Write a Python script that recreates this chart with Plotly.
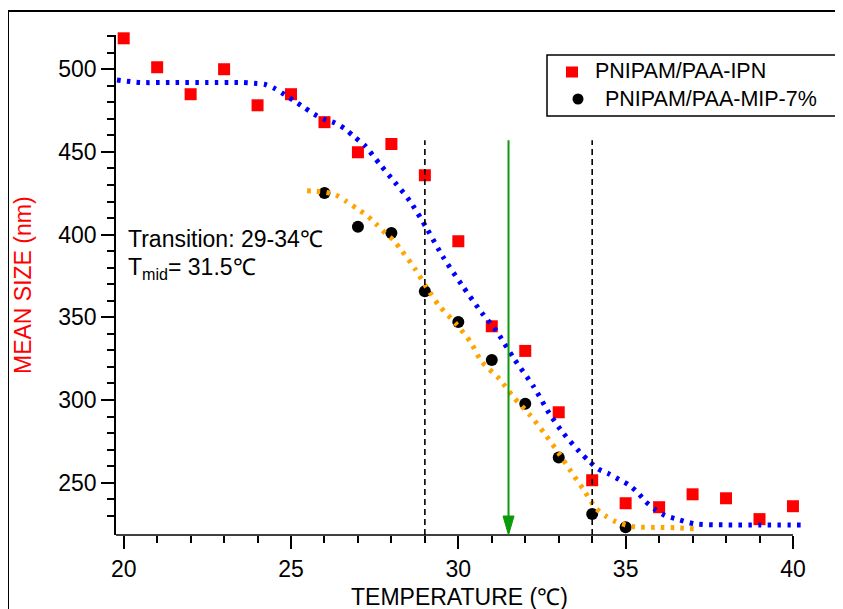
import plotly.graph_objects as go

# ---- data ----
TEMP = list(range(20, 41))
IPN_SIZE = [518.7, 501.2, 484.9, 500.0, 478.2, 484.9, 468.0, 449.8, 454.8, 435.9,
            396.0, 344.6, 329.7, 292.6, 251.5, 237.6, 235.2, 243.0, 240.6, 228.0, 235.8]

MIP_TEMP = list(range(26, 36))
MIP_SIZE = [425.2, 404.8, 401.0, 365.8, 347.2, 324.2, 297.8, 265.2, 231.1, 223.1]

IPN_FIT_X = [19.8, 20.5, 21.5, 22.5, 23.5, 23.9, 24.2, 24.5, 24.8, 25.1, 25.4, 25.7, 26.0, 26.3,
             26.6, 26.9, 27.2, 27.65, 28.1, 28.55, 29.07, 29.54, 30.1, 30.7, 31.14, 31.67,
             32.25, 32.74, 33.14, 33.62, 33.9, 34.19, 34.49, 34.79, 35.08, 35.36, 35.6,
             35.89, 36.17, 36.47, 37.05, 38.0, 39.0, 40.3]
IPN_FIT_Y = [493.5, 492.0, 492.0, 492.0, 492.0, 491.5, 490.9, 488.5, 484.8, 480.8, 476.8, 472.7,
             469.7, 467.7, 464.1, 459.0, 454.0, 442.7, 431.7, 420.4, 403.3, 386.6, 369.7,
             352.8, 341.7, 324.8, 308.1, 291.2, 279.9, 268.7, 263.2, 258.2, 255.5, 252.1,
             248.9, 244.1, 238.5, 233.7, 230.2, 228.4, 225.2, 224.5, 224.5, 224.4]

MIP_FIT_X = [25.48, 25.76, 26.05, 26.35, 26.65, 26.95, 27.24, 27.53, 27.81, 28.07, 28.29,
             28.7, 29.04, 29.42, 29.94, 30.38, 30.69, 31.23, 31.66, 32.15, 32.59, 32.99,
             33.36, 33.74, 34.11, 34.41, 34.7, 35.0, 35.29, 35.88, 36.47, 37.05]
MIP_FIT_Y = [426.6, 426.2, 425.5, 423.9, 420.1, 416.0, 412.0, 406.7, 401.1, 396.5, 390.8,
             379.5, 368.4, 357.2, 345.9, 334.6, 323.4, 312.7, 301.5, 290.7, 279.4, 268.2,
             257.0, 245.9, 234.6, 229.8, 226.5, 224.4, 223.2, 223.0, 222.8, 222.2]

SERIES_NAMES = ["PNIPAM/PAA-IPN", "PNIPAM/PAA-MIP-7%"]
X_TICKS = [20, 25, 30, 35, 40]
Y_TICKS = [250, 300, 350, 400, 450, 500]

TRANSITION = [29, 34]
T_MID = 31.5
MARKER_TOP = 457.0

X_RANGE = [19.77, 40.3]
Y_RANGE = [218.4, 520.7]

FONT = "Liberation Sans, Arial, Helvetica, sans-serif"
FS = 23
LEG_FS = 21.5

# page is offset 8px by the body margin; plot area spans page x 116..803, y 35..535
PL, PT, PW, PH = 116, 35, 687, 500


def px(xp):
    return (xp - PL) / PW


def py(yp):
    return (PT + PH - yp) / PH


fig = go.Figure()

fig.add_trace(go.Scatter(
    x=TEMP, y=IPN_SIZE, mode="markers", name=SERIES_NAMES[0], showlegend=False,
    marker=dict(symbol="square", size=12, color="#ff0000"), cliponaxis=False))
fig.add_trace(go.Scatter(
    x=MIP_TEMP, y=MIP_SIZE, mode="markers", name=SERIES_NAMES[1], showlegend=False,
    marker=dict(symbol="circle", size=12, color="#000000"), cliponaxis=False))
fig.add_trace(go.Scatter(
    x=IPN_FIT_X, y=IPN_FIT_Y, mode="lines", showlegend=False,
    line=dict(color="#0000ff", width=5, dash="3.5px,6.3px", shape="spline", smoothing=0.7)))
fig.add_trace(go.Scatter(
    x=MIP_FIT_X, y=MIP_FIT_Y, mode="lines", showlegend=False,
    line=dict(color="#ffa500", width=5, dash="3.5px,6.3px", shape="spline", smoothing=0.7)))

shapes = []
# outer frame
shapes.append(dict(type="rect", xref="paper", yref="paper", x0=px(8), x1=px(860),
                   y0=py(625), y1=py(11), line=dict(color="black", width=2), layer="above"))
# x axis line (ends at 40)
shapes.append(dict(type="line", xref="x", yref="paper", x0=X_RANGE[0], x1=X_TICKS[-1], y0=0, y1=0,
                   line=dict(color="black", width=1.6), layer="above"))
for t in TRANSITION:
    shapes.append(dict(type="line", xref="x", yref="y", x0=t, x1=t, y0=Y_RANGE[0], y1=MARKER_TOP,
                       line=dict(color="black", width=1.6, dash="6px,4px"), layer="above"))
# green arrow
shapes.append(dict(type="line", xref="x", yref="y", x0=T_MID, x1=T_MID, y0=Y_RANGE[0] + 8,
                   y1=MARKER_TOP, line=dict(color="#0a9a0a", width=2), layer="above"))
shapes.append(dict(type="path", xref="x", yref="y", xsizemode="pixel", ysizemode="pixel",
                   xanchor=T_MID, yanchor=Y_RANGE[0], path="M-5.5,19 L5.5,19 L0,0 Z",
                   fillcolor="#0a9a0a", line=dict(color="#0a9a0a", width=1), layer="above"))

# legend (drawn by hand to match the reference box)
shapes.append(dict(type="rect", xref="paper", yref="paper", x0=px(547), x1=px(836),
                   y0=py(116), y1=py(55), fillcolor="white",
                   line=dict(color="black", width=1.5), layer="above"))
shapes.append(dict(type="rect", xref="paper", yref="paper", xsizemode="pixel", ysizemode="pixel",
                   xanchor=px(572), yanchor=py(72), x0=-6, x1=6, y0=-5.5, y1=5.5,
                   fillcolor="#ff0000", line=dict(width=0), layer="above"))
shapes.append(dict(type="circle", xref="paper", yref="paper", xsizemode="pixel", ysizemode="pixel",
                   xanchor=px(578), yanchor=py(99), x0=-5.5, x1=5.5, y0=-5.5, y1=5.5,
                   fillcolor="#000000", line=dict(width=0), layer="above"))

annotations = [
    dict(text=SERIES_NAMES[0], xref="paper", yref="paper", x=px(593), y=py(71),
         xanchor="left", yanchor="middle", showarrow=False,
         font=dict(family=FONT, size=LEG_FS, color="black")),
    dict(text=SERIES_NAMES[1], xref="paper", yref="paper", x=px(603), y=py(99),
         xanchor="left", yanchor="middle", showarrow=False,
         font=dict(family=FONT, size=LEG_FS, color="black")),
    dict(text="Transition: 29-34\u2103", xref="paper", yref="paper",
         x=px(126), y=py(239.4), xanchor="left", yanchor="middle",
         showarrow=False, font=dict(family=FONT, size=FS, color="black")),
    dict(text="T<sub>mid</sub>= 31.5\u2103", xref="paper", yref="paper",
         x=px(126), y=py(268), xanchor="left", yanchor="middle",
         showarrow=False, font=dict(family=FONT, size=FS, color="black")),
    dict(text="TEMPERATURE (\u2103)", xref="paper", yref="paper",
         x=0.5 * (px(116) + px(803)), y=py(597), xanchor="center", yanchor="middle",
         showarrow=False, font=dict(family=FONT, size=FS, color="black")),
    dict(text="MEAN SIZE (nm)", xref="paper", yref="paper", textangle=-90,
         x=px(23), y=0.5, xanchor="center", yanchor="middle",
         showarrow=False, font=dict(family=FONT, size=FS, color="#ff0000")),
]

fig.update_layout(
    width=835, height=601,
    margin=dict(l=PL - 8, r=835 - (PL - 8) - PW, t=PT - 8, b=601 - (PT - 8) - PH),
    paper_bgcolor="white", plot_bgcolor="white",
    font=dict(family=FONT, size=FS, color="black"),
    showlegend=False,
    shapes=shapes,
    annotations=annotations,
)

fig.update_xaxes(
    range=X_RANGE, showgrid=False, zeroline=False, showline=False,
    tickmode="array", tickvals=X_TICKS, ticktext=[str(v) for v in X_TICKS],
    ticks="outside", ticklen=13, tickwidth=1.6, tickcolor="black",
    minor=dict(tickmode="array", tickvals=[v for v in TEMP if v % 5 != 0],
               ticks="outside", ticklen=7, tickwidth=1.6, tickcolor="black", showgrid=False),
    tickfont=dict(family=FONT, size=FS, color="black"),
)
fig.update_yaxes(
    range=Y_RANGE, showgrid=False, zeroline=False, showline=True, linecolor="black",
    linewidth=1.6, tickmode="array", tickvals=Y_TICKS,
    ticks="outside", ticklen=13, tickwidth=1.6, tickcolor="black",
    minor=dict(tickmode="array", tickvals=[v for v in range(230, 530, 10) if v % 50 != 0],
               ticks="outside", ticklen=7, tickwidth=1.6, tickcolor="black", showgrid=False),
    tickfont=dict(family=FONT, size=FS, color="black"),
)

fig.write_html("out.html")
